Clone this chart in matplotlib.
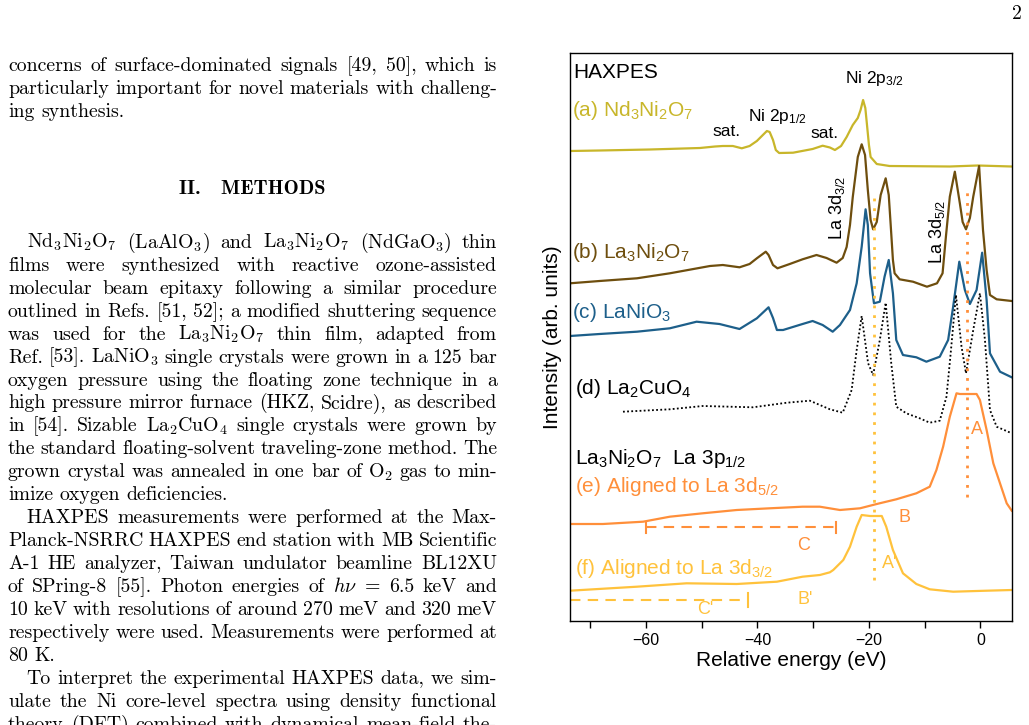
import matplotlib
matplotlib.use("Agg")
import matplotlib.pyplot as plt

plt.rcParams['font.family'] = ['Liberation Sans', 'DejaVu Sans']
plt.rcParams['mathtext.fontset'] = 'custom'
plt.rcParams['mathtext.rm'] = 'Liberation Sans'
plt.rcParams['mathtext.it'] = 'Liberation Sans:italic'
plt.rcParams['mathtext.bf'] = 'Liberation Sans:bold'
plt.rcParams['mathtext.default'] = 'rm'

# ---- spectra (relative energy in eV, intensity in arb. units, stacked) ----
a_energy = [-73.6, -68.3, -59.3, -50.3, -47.6, -46.2, -44.4, -42.8, -41.4, -40.1, -39.2, -38.3, -37.8,
            -37.2, -36.7, -36.1, -33.6, -30.1, -28.3, -27.0, -26.1, -25.0, -24.0, -22.9, -22.0, -21.5,
            -21.05, -20.65, -20.4, -20.0, -19.7, -18.6, -16.3, -5.5, -0.5, 5.6]
a_intensity = [470, 470.5, 471.5, 473, 474.5, 475, 475, 472.7, 475, 480, 485, 490, 489,
               481, 471, 468, 468.3, 472, 475.3, 473.5, 471, 475, 484, 496, 503, 511,
               521, 513, 499, 476, 464, 457, 455, 454.5, 455.5, 454.5]

b_energy = [-73.6, -68.3, -61.6, -55.7, -48.5, -46.2, -43.2, -41.4, -40.1, -38.5, -38.0, -37.2, -36.4,
            -34.2, -31.9, -29.4, -27.6, -25.8, -24.7, -24.0, -23.4, -22.9, -22.0, -21.3, -20.7, -20.2,
            -19.7, -19.25, -18.6, -17.9, -17.0, -16.45, -16.1, -15.7, -15.4, -14.5, -12.1, -9.6, -7.8,
            -6.8, -6.2, -5.5, -4.6, -3.7, -3.2, -2.6, -1.9, -1.3, -0.25, 0.45, 1.1, 1.7, 2.9, 5.6]
b_intensity = [337.7, 340, 342.7, 347.7, 355, 356, 353.7, 357, 362.7, 369.3, 366, 356, 352.7,
               357, 361.7, 366, 363, 358.3, 363, 374, 396, 424, 464, 476.7, 466, 431,
               401, 391.7, 399, 426, 442.7, 426, 396, 361, 347.7, 341.7, 339.3, 334.3, 337.7,
               347.7, 384.3, 424.3, 449.3, 417.7, 399, 391.7, 403, 424.3, 455, 391, 351, 326, 321.7, 320]

c_energy = [-73.6, -68.3, -61.6, -55.7, -50.9, -46.8, -43.2, -40.1, -38.0, -37.2, -36.5, -35.4, -31.9,
            -30.1, -28.3, -26.5, -25.2, -23.4, -22.2, -21.3, -20.6, -20.2, -19.8, -19.1, -18.05, -17.2,
            -16.45, -15.7, -15.1, -13.9, -11.5, -9.7, -7.3, -5.8, -4.9, -3.8, -2.8, -1.9, -0.7, 0.3,
            1.1, 1.7, 3.5, 5.6]
c_intensity = [285, 287, 289.3, 292.7, 299.3, 297, 292, 302.7, 313.7, 303, 291, 291, 297,
               300, 296, 289.3, 296, 311, 337.7, 374.3, 411.7, 396, 347.7, 317.7, 319.3, 344.3,
               361, 327.7, 281, 266, 263.7, 259.3, 264.3, 281, 314.3, 359.3, 331, 317, 331, 368.3,
               321, 267.7, 249.3, 243.7]

d_energy = [-64.1, -55.7, -49.8, -40.8, -34.7, -30.6, -27.0, -24.7, -23.1, -22.2, -21.3, -20.15, -19.25,
            -18.05, -17.0, -16.0, -15.1, -13.3, -10.9, -9.1, -7.3, -6.1, -5.4, -4.4, -3.4, -2.6,
            -1.3, -0.1, 0.8, 1.7, 2.9, 5.6]
d_intensity = [209.3, 211.7, 215, 213.7, 218.3, 220.3, 211.7, 208.3, 231, 271, 305, 257.7, 246,
               281, 318.3, 257.7, 214.3, 207.7, 202.7, 198.3, 200.3, 224.3, 264.3, 326, 274.3, 247.7,
               291, 327.7, 281, 211, 194.3, 187.7]

e_energy = [-73.6, -67.7, -60.5, -55.7, -49.8, -43.7, -37.8, -31.9, -28.8, -25.2, -21.6, -18.6, -15.1,
            -11.5, -9.1, -7.9, -6.7, -5.5, -4.3, -3.7, -2.3, -0.7, -0.1, 1.1, 2.3, 3.5, 4.7, 5.6]
e_intensity = [97, 97, 99.3, 104.3, 107.7, 111, 112.7, 114.3, 114.3, 111, 112.7, 117, 121.7,
               127.7, 134.3, 151, 174.3, 204.3, 227.7, 227, 227, 227, 221, 191, 157.7, 137.7, 117.7, 110.3]

f_energy = [-73.6, -61.6, -52.7, -43.7, -36.5, -31.9, -28.8, -27.0, -26.4, -24.6, -23.4, -22.2, -21.3,
            -19.8, -17.7, -16.9, -15.7, -13.9, -11.5, -9.1, -4.9, 1.1, 5.6]
f_intensity = [30.3, 34.3, 37.7, 37, 39.3, 44.3, 46, 48.7, 51, 61, 74.3, 94.3, 106,
               105, 105, 94.3, 71, 47.7, 37, 31.7, 29.3, 30.3, 31]

# guide lines
peak_3d32 = -19.1
peak_3d52 = -2.5
c_range = (-60.0, -25.9)
c_prime_range = (-73.6, -41.7)

col_a = '#c8b62a'
col_b = '#6e4e0e'
col_c = '#1d5f8a'
col_e = '#ff8f3a'
col_f = '#ffc23c'

fig = plt.figure(figsize=(10.29, 7.25), dpi=100)

# ---- page text (left column) ----
page = fig.add_axes([0, 0, 1, 1])
page.set_xlim(0, 1029)
page.set_ylim(725, 0)
page.axis('off')
renderer = fig.canvas.get_renderer()

body_size = 14.3
body = dict(family='cmr10', fontsize=body_size, math_fontfamily='cm', color='black')

def put_line(line, y, x0=8, x1=497, justify=True):
    words = line.split(' ')
    texts = [page.text(0, y, w, va='baseline', ha='left', **body) for w in words]
    widths = [t.get_window_extent(renderer).width for t in texts]
    if justify and len(words) > 1:
        gap = (x1 - x0 - sum(widths)) / (len(words) - 1)
    else:
        gap = body_size * 100 / 72 * 0.333
    x = x0
    for t, w in zip(texts, widths):
        t.set_x(x)
        x += w + gap

para1 = ["concerns of surface-dominated signals [49, 50], which is",
         "particularly important for novel materials with challeng-",
         "ing synthesis."]
for i, line in enumerate(para1):
    put_line(line, 71 + i * 22.8, justify=(i < 2))

page.text(252, 194, "II.   METHODS", ha='center', va='baseline', family='cmb10', fontsize=14.6)

body_lines = [
    ("Nd$_3$Ni$_2$O$_7$ (LaAlO$_3$) and La$_3$Ni$_2$O$_7$ (NdGaO$_3$) thin", 'first'),
    ("films were synthesized with reactive ozone-assisted", 'mid'),
    ("molecular beam epitaxy following a similar procedure", 'mid'),
    ("outlined in Refs. [51, 52]; a modified shuttering sequence", 'mid'),
    ("was used for the La$_3$Ni$_2$O$_7$ thin film, adapted from", 'mid'),
    ("Ref. [53]. LaNiO$_3$ single crystals were grown in a 125 bar", 'mid'),
    ("oxygen pressure using the floating zone technique in a", 'mid'),
    ("high pressure mirror furnace (HKZ, Scidre), as described", 'mid'),
    ("in [54]. Sizable La$_2$CuO$_4$ single crystals were grown by", 'mid'),
    ("the standard floating-solvent traveling-zone method. The", 'mid'),
    ("grown crystal was annealed in one bar of O$_2$ gas to min-", 'mid'),
    ("imize oxygen deficiencies.", 'last'),
    ("HAXPES measurements were performed at the Max-", 'first'),
    ("Planck-NSRRC HAXPES end station with MB Scientific", 'mid'),
    ("A-1 HE analyzer, Taiwan undulator beamline BL12XU", 'mid'),
    (r"of SPring-8 [55]. Photon energies of $\mathit{h}\nu$ = 6.5 keV and", 'mid'),
    ("10 keV with resolutions of around 270 meV and 320 meV", 'mid'),
    ("respectively were used. Measurements were performed at", 'mid'),
    ("80 K.", 'last'),
    ("To interpret the experimental HAXPES data, we sim-", 'first'),
    ("ulate the Ni core-level spectra using density functional", 'mid'),
    ("theory (DFT) combined with dynamical mean-field the-", 'mid'),
]
for i, (line, kind) in enumerate(body_lines):
    y = 247.8 + i * 22.95
    x0 = 26.7 if kind == 'first' else 8
    put_line(line, y, x0=x0, justify=(kind != 'last'))

page.text(1017, 19, "2", ha='center', va='baseline', **body)

# ---- HAXPES chart ----
ax = fig.add_axes([570 / 1029, 1 - 621 / 725, (1012 - 570) / 1029, (621 - 53) / 725])

ax.plot(a_energy, a_intensity, color=col_a, lw=1.6)
ax.plot(b_energy, b_intensity, color=col_b, lw=1.6)
ax.plot(c_energy, c_intensity, color=col_c, lw=1.6)
ax.plot(d_energy, d_intensity, color='black', lw=1.3, ls=(0, (1, 1.3)))
ax.plot(e_energy, e_intensity, color=col_e, lw=1.6)
ax.plot(f_energy, f_intensity, color=col_f, lw=1.6)

ax.plot([peak_3d32, peak_3d32], [41, 428], color=col_f, lw=2, ls=(0, (1, 2.5)))
ax.plot([peak_3d52, peak_3d52], [124, 434], color=col_e, lw=2, ls=(0, (1, 2.5)))

ax.plot(c_range, [93.7, 93.7], color=col_e, lw=1.5, ls=(0, (5, 3.5)))
for xe in c_range:
    ax.plot([xe, xe], [88, 99.5], color=col_e, lw=1.5)
ax.plot(c_prime_range, [21, 21], color=col_f, lw=1.5, ls=(0, (5, 3.5)))
ax.plot([c_prime_range[1]] * 2, [14, 28], color=col_f, lw=1.5)

ax.text(-73.1, 548, "HAXPES", fontsize=15, va='center', ha='left')
ax.text(-73.3, 511, "(a) Nd$_3$Ni$_2$O$_7$", fontsize=15, color=col_a, va='center')
ax.text(-73.3, 368, "(b) La$_3$Ni$_2$O$_7$", fontsize=15, color=col_b, va='center')
ax.text(-73.3, 308, "(c) LaNiO$_3$", fontsize=15, color=col_c, va='center')
ax.text(-72.7, 232, "(d) La$_2$CuO$_4$", fontsize=15, color='black', va='center')
ax.text(-72.7, 163, "La$_3$Ni$_2$O$_7$  La 3p$_{1/2}$", fontsize=15, color='black', va='center')
ax.text(-72.7, 135, "(e) Aligned to La 3d$_{5/2}$", fontsize=15, color=col_e, va='center')
ax.text(-72.7, 52, "(f) Aligned to La 3d$_{3/2}$", fontsize=15, color=col_f, va='center')

ax.text(-45.5, 490, "sat.", fontsize=12.5, ha='center', va='center')
ax.text(-41.7, 504, "Ni 2p$_{1/2}$", fontsize=12.5, ha='left', va='center')
ax.text(-27.9, 488, "sat.", fontsize=12.5, ha='center', va='center')
ax.text(-24.3, 543, "Ni 2p$_{3/2}$", fontsize=12.5, ha='left', va='center')
ax.text(-25.8, 413, "La 3d$_{3/2}$", fontsize=13, rotation=90, ha='center', va='center')
ax.text(-7.8, 389, "La 3d$_{5/2}$", fontsize=13, rotation=90, ha='center', va='center')

ax.text(-0.7, 191, "A", fontsize=13, color=col_e, ha='center', va='center')
ax.text(-13.6, 104, "B", fontsize=13, color=col_e, ha='center', va='center')
ax.text(-31.7, 75, "C", fontsize=13, color=col_e, ha='center', va='center')
ax.text(-16.3, 58, "A'", fontsize=13, color=col_f, ha='center', va='center')
ax.text(-31.5, 21, "B'", fontsize=13, color=col_f, ha='center', va='center')
ax.text(-49.4, 11, "C'", fontsize=13, color=col_f, ha='center', va='center')

ax.set_xlim(-73.6, 5.65)
ax.set_ylim(0, 568)
ax.set_yticks([])
ax.set_xticks([-60, -40, -20, 0])
ax.set_xticks([-70, -50, -30, -10], minor=True)
ax.tick_params(axis='x', which='both', direction='out', length=5, width=1, labelsize=11.5)
for sp in ax.spines.values():
    sp.set_linewidth(1.0)
ax.set_xlabel("Relative energy (eV)", fontsize=15, labelpad=2)
ax.set_ylabel("Intensity (arb. units)", fontsize=15, labelpad=6)

fig.savefig("out.png", dpi=100)
